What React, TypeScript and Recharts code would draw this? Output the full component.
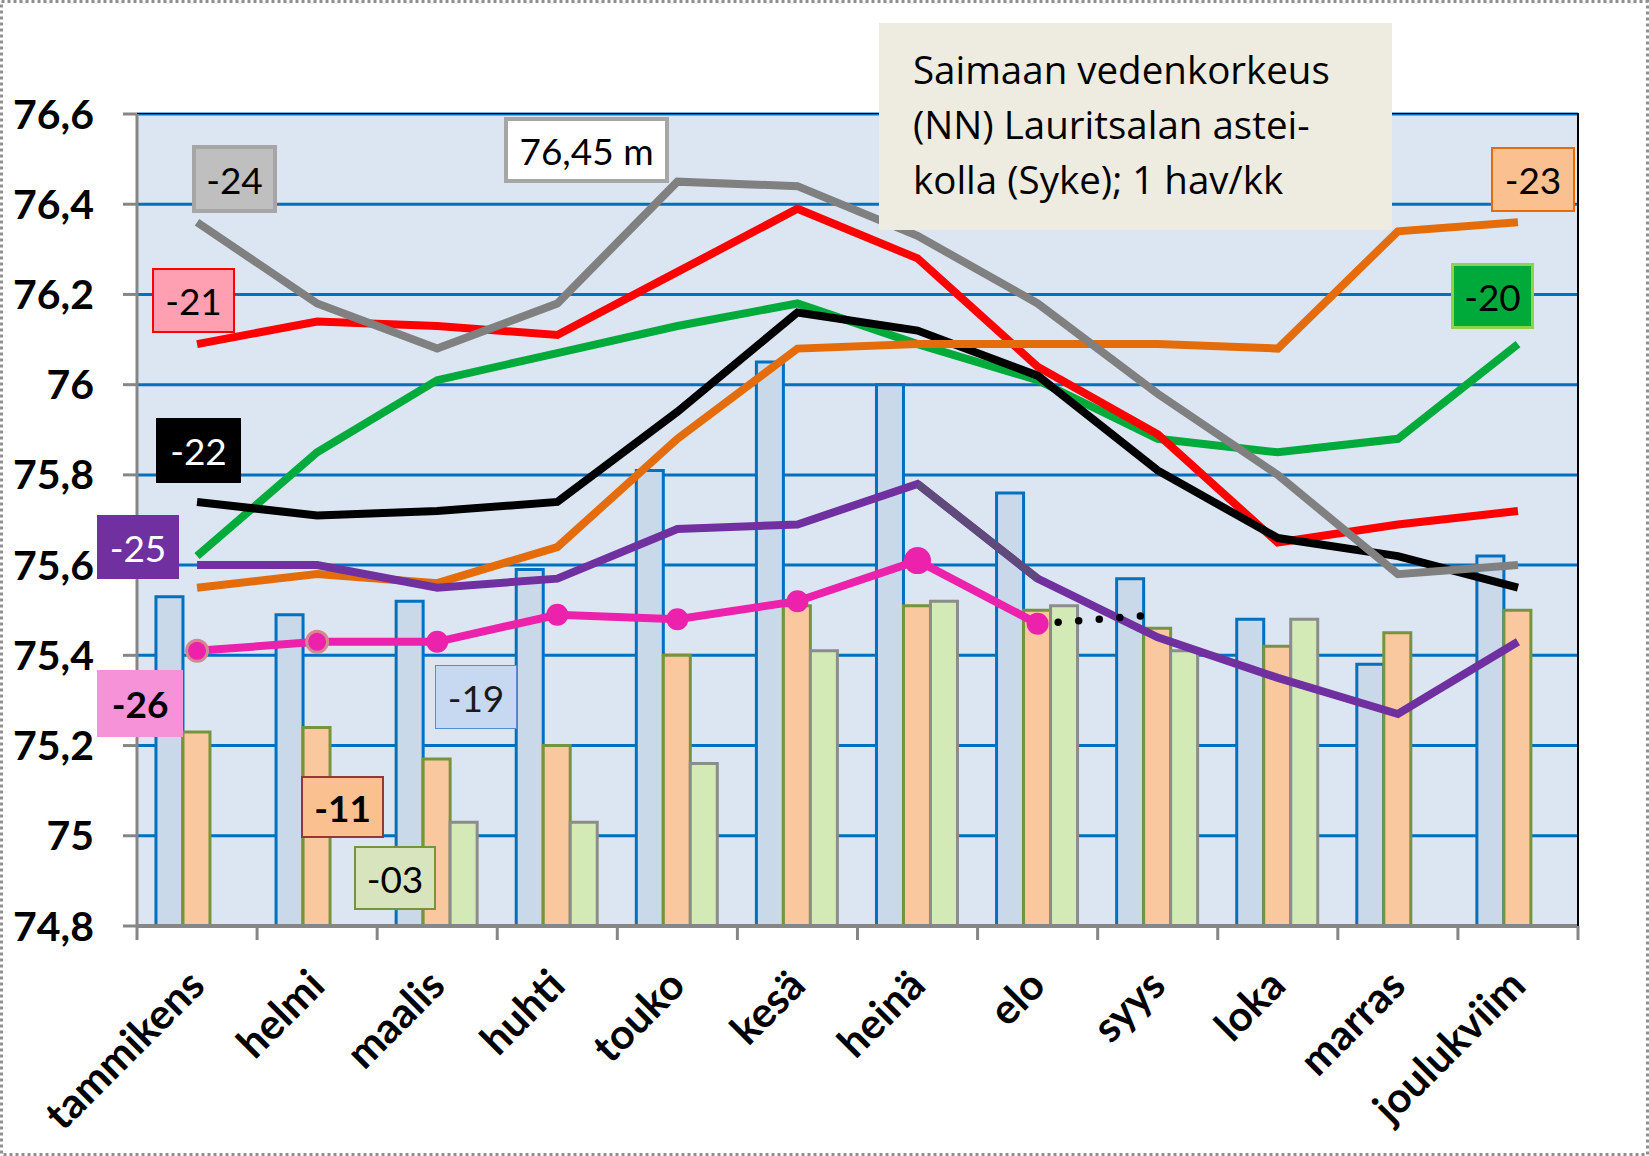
import React from 'react';
import { Bar, CartesianGrid, ComposedChart, Line, XAxis, YAxis } from 'recharts';

const months = [
    'tammikens', 'helmi', 'maalis', 'huhti', 'touko', 'kesä',
    'heinä', 'elo', 'syys', 'loka', 'marras', 'joulukviim'
];
const yTicks = [74.8, 75, 75.2, 75.4, 75.6, 75.8, 76, 76.2, 76.4, 76.6];

// bars (2019, 2011, 2003)
const level19 = [75.53, 75.49, 75.52, 75.59, 75.81, 76.05, 76.0, 75.76, 75.57, 75.48, 75.38, 75.62];
const level11 = [75.23, 75.24, 75.17, 75.2, 75.4, 75.51, 75.51, 75.5, 75.46, 75.42, 75.45, 75.5];
const level03 = [null, null, 75.03, 75.03, 75.16, 75.41, 75.52, 75.51, 75.41, 75.48, null, null];

// lines
const level20 = [75.62, 75.85, 76.01, 76.07, 76.13, 76.18, 76.09, 76.01, 75.88, 75.85, 75.88, 76.09];
const level21 = [76.09, 76.14, 76.13, 76.11, 76.25, 76.39, 76.28, 76.04, 75.89, 75.65, 75.69, 75.72];
const level22 = [75.74, 75.71, 75.72, 75.74, 75.94, 76.16, 76.12, 76.02, 75.81, 75.66, 75.62, 75.55];
const level23 = [75.55, 75.58, 75.56, 75.64, 75.88, 76.08, 76.09, 76.09, 76.09, 76.08, 76.34, 76.36];
const level24 = [76.36, 76.18, 76.08, 76.18, 76.45, 76.44, 76.33, 76.18, 75.98, 75.8, 75.58, 75.6];
const level25 = [75.6, 75.6, 75.55, 75.57, 75.68, 75.69, 75.78, 75.57, 75.44, 75.35, 75.27, 75.43];
const level26 = [75.41, 75.43, 75.43, 75.49, 75.48, 75.52, 75.61, 75.47, null, null, null, null];
const forecast26 = [null, null, null, null, null, null, null, 75.47, 75.49, null, null, null];

const data = months.map((name, i) => ({
    name,
    b19: level19[i],
    b11: level11[i],
    b03: level03[i],
    l20: level20[i],
    l21: level21[i],
    l22: level22[i],
    l23: level23[i],
    l24: level24[i],
    l25: level25[i],
    l25dark: i === 6 || i === 7 ? level25[i] : null,
    l26: level26[i],
    f26: forecast26[i],
}));

const W = 1649;
const H = 1156;
const PLOT_LEFT = 137;
const PLOT_TOP = 114;
const PLOT_RIGHT = 1578;
const PLOT_BOTTOM = 926;
const BAND = (PLOT_RIGHT - PLOT_LEFT) / months.length;
const FONT = 'Lato, "Open Sans", sans-serif';
const LINE_W = 8;

const tags = [
    { text: '-24', left: 192, top: 145, w: 85, h: 68, bg: '#bfbfbf', border: '4px solid #a6a6a6', color: '#000', bold: false },
    { text: '76,45 m', left: 504, top: 117, w: 165, h: 66, bg: '#ffffff', border: '4px solid #a6a6a6', color: '#000', bold: false },
    { text: '-21', left: 152, top: 268, w: 83, h: 65, bg: '#ff9fb1', border: '2.5px solid #ff0000', color: '#000', bold: false },
    { text: '-22', left: 156, top: 418, w: 85, h: 65, bg: '#000000', border: 'none', color: '#fff', bold: false },
    { text: '-25', left: 97, top: 515, w: 82, h: 64, bg: '#7030a0', border: 'none', color: '#fff', bold: false },
    { text: '-26', left: 97, top: 670, w: 86, h: 67, bg: '#f592d8', border: 'none', color: '#000', bold: true },
    { text: '-19', left: 435, top: 665, w: 82, h: 64, bg: '#c6d9f1', border: '1.5px solid #558ed5', color: '#1a1a1a', bold: false },
    { text: '-11', left: 301, top: 776, w: 83, h: 62, bg: '#fac090', border: '2.5px solid #953735', color: '#000', bold: true },
    { text: '-03', left: 354, top: 846, w: 82, h: 64, bg: '#d7e4bd', border: '2.5px solid #77933c', color: '#000', bold: false },
    { text: '-23', left: 1491, top: 147, w: 84, h: 65, bg: '#fac090', border: '2.5px solid #e46c0a', color: '#000', bold: false },
    { text: '-20', left: 1451, top: 263, w: 83, h: 66, bg: '#00aa3a', border: '3px solid #92d050', color: '#000', bold: false },
];

const titleLines = ['Saimaan vedenkorkeus', '(NN) Lauritsalan astei-', 'kolla (Syke); 1 hav/kk'];

const fmt = (v: number) => String(Number(v.toFixed(1))).replace('.', ',');

function MonthTick({ x, y, payload, index }: any) {
    const left = x - BAND / 2;
    const ax = x + 10;
    const ay = y + 62;
    return (
        <g>
            <line x1={left} y1={y} x2={left} y2={y + 14} stroke="#868686" strokeWidth={3} />
            {index === months.length - 1 && (
                <line x1={x + BAND / 2} y1={y} x2={x + BAND / 2} y2={y + 14} stroke="#868686" strokeWidth={3} />
            )}
            <text
                x={ax}
                y={ay}
                transform={`rotate(-45 ${ax} ${ay})`}
                textAnchor="end"
                fontFamily={FONT}
                fontWeight={700}
                fontSize={42}
                fill="#000"
            >
                {payload.value}
            </text>
        </g>
    );
}

function MagentaDot({ cx, cy, index, value }: any) {
    if (value == null || cx == null) return null;
    if (index < 2) {
        return <circle key={index} cx={cx} cy={cy} r={10.5} fill="#ec21ac" stroke="#d4888f" strokeWidth={3} />;
    }
    return <circle key={index} cx={cx} cy={cy} r={index === 6 ? 13.5 : 11} fill="#ec21ac" />;
}

export default function App() {
    return (
        <div style={{ position: 'absolute', left: 0, top: 0, width: W, height: H, background: '#fff', fontFamily: FONT }}>
            <ComposedChart
                width={W}
                height={H}
                data={data}
                margin={{ top: PLOT_TOP, right: W - PLOT_RIGHT, bottom: 0, left: 0 }}
                barCategoryGap="15.8%"
                barGap={0}
            >
                <CartesianGrid horizontal vertical={false} fill="#dce6f2" stroke="#0070c0" strokeWidth={3} />
                <XAxis
                    dataKey="name"
                    height={H - PLOT_BOTTOM}
                    interval={0}
                    tickLine={false}
                    tickSize={0}
                    tickMargin={0}
                    axisLine={{ stroke: '#868686', strokeWidth: 4 }}
                    tick={<MonthTick />}
                />
                <YAxis
                    width={PLOT_LEFT}
                    domain={[74.8, 76.6]}
                    ticks={yTicks}
                    interval={0}
                    allowDataOverflow
                    tickFormatter={fmt}
                    tickSize={14}
                    tickMargin={29}
                    tickLine={{ stroke: '#868686', strokeWidth: 3 }}
                    axisLine={{ stroke: '#868686', strokeWidth: 3 }}
                    tick={{ fill: '#000', fontSize: 41, fontWeight: 700, fontFamily: FONT }}
                />
                <Bar dataKey="b19" fill="#cad9ea" stroke="#0070c0" strokeWidth={3} isAnimationActive={false} />
                <Bar dataKey="b11" fill="#f9c89e" stroke="#77933c" strokeWidth={3} isAnimationActive={false} />
                <Bar dataKey="b03" fill="#d3eab7" stroke="#8c8c8c" strokeWidth={3} isAnimationActive={false} />
                <Line dataKey="l20" stroke="#00ab3c" strokeWidth={LINE_W} dot={false} isAnimationActive={false} />
                <Line dataKey="l21" stroke="#ff0000" strokeWidth={LINE_W} dot={false} isAnimationActive={false} />
                <Line dataKey="l22" stroke="#000000" strokeWidth={LINE_W} dot={false} isAnimationActive={false} />
                <Line dataKey="l23" stroke="#e46c0a" strokeWidth={LINE_W} dot={false} isAnimationActive={false} />
                <Line dataKey="l24" stroke="#808080" strokeWidth={LINE_W} dot={false} isAnimationActive={false} />
                <Line dataKey="l25" stroke="#7030a0" strokeWidth={LINE_W} dot={false} isAnimationActive={false} />
                <Line dataKey="l25dark" stroke="#5f4a7b" strokeWidth={LINE_W} dot={false} isAnimationActive={false} />
                <Line
                    dataKey="f26"
                    stroke="#000"
                    strokeWidth={7.5}
                    strokeDasharray="0 20.6"
                    strokeLinecap="round"
                    dot={false}
                    isAnimationActive={false}
                />
                <Line dataKey="l26" stroke="#ec21ac" strokeWidth={LINE_W} dot={<MagentaDot />} isAnimationActive={false} />
            </ComposedChart>

            {/* plot frame top / right */}
            <div
                style={{
                    position: 'absolute', left: PLOT_LEFT, top: PLOT_TOP - 1,
                    width: PLOT_RIGHT - PLOT_LEFT + 1, height: PLOT_BOTTOM - PLOT_TOP + 1,
                    borderTop: '1.5px solid #000', borderRight: '2px solid #000', boxSizing: 'border-box',
                    pointerEvents: 'none',
                }}
            />

            {/* title box */}
            <div
                style={{
                    position: 'absolute', left: 879, top: 23, width: 513, height: 207,
                    background: '#eeece1', boxSizing: 'border-box', paddingLeft: 34, paddingTop: 19,
                    fontFamily: '"Open Sans", Lato, sans-serif', fontSize: 38.5, lineHeight: '55px', color: '#000',
                }}
            >
                {titleLines.map(t => <div key={t} style={{ whiteSpace: 'pre' }}>{t}</div>)}
            </div>

            {tags.map(t => (
                <div
                    key={t.text}
                    style={{
                        position: 'absolute', left: t.left, top: t.top, width: t.w, height: t.h,
                        background: t.bg, border: t.border, boxSizing: 'border-box', color: t.color,
                        display: 'flex', alignItems: 'center', justifyContent: 'center',
                        fontSize: 37, fontWeight: t.bold ? 700 : 400, whiteSpace: 'pre',
                    }}
                >
                    {t.text}
                </div>
            ))}

            <svg width={W} height={H} style={{ position: 'absolute', left: 0, top: 0, pointerEvents: 'none' }}>
                <rect x={1.5} y={1.5} width={W - 3} height={H - 3} fill="none" stroke="#8f8f8f" strokeWidth={3} strokeDasharray="3 3" />
            </svg>
        </div>
    );
}
